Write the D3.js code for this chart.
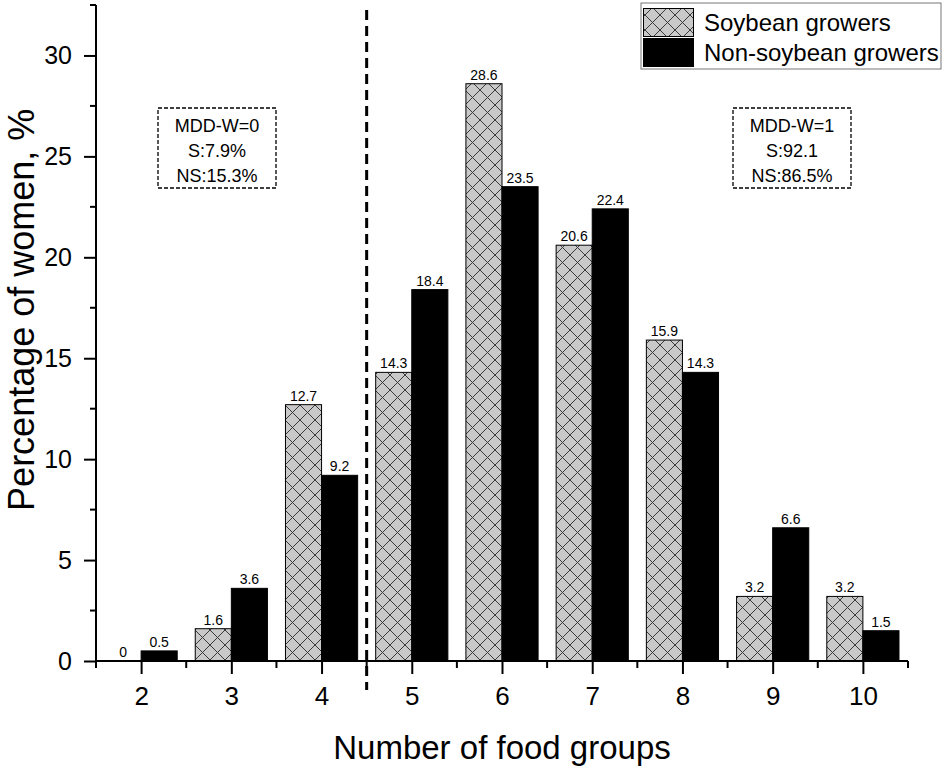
<!DOCTYPE html>
<html><head><meta charset="utf-8">
<script src="https://cdn.jsdelivr.net/npm/d3@7"></script>
<style>body{margin:0;background:#fff}svg{display:block;font-family:"Liberation Sans",Arial,sans-serif}</style>
</head><body>
<svg id="c" width="945" height="770"></svg>
<script>
const categories = [2,3,4,5,6,7,8,9,10];
const soybean = [0,1.6,12.7,14.3,28.6,20.6,15.9,3.2,3.2];
const nonSoybean = [0.5,3.6,9.2,18.4,23.5,22.4,14.3,6.6,1.5];
const yTicks = [0,5,10,15,20,25,30];
const seriesNames = ["Soybean growers","Non-soybean growers"];
const boxLeft = ["MDD-W=0","S:7.9%","NS:15.3%"];
const boxRight = ["MDD-W=1","S:92.1","NS:86.5%"];
const cutoff = 4.5;

const svg = d3.select("#c");
const x = d3.scaleLinear().domain([1.5,10.5]).range([96,908]);
const y = d3.scaleLinear().domain([0,32.5]).range([661,5]);
const bw = 0.4;

const defs = svg.append("defs");
const pat = defs.append("pattern").attr("id","hatch").attr("patternUnits","userSpaceOnUse")
  .attr("width",15).attr("height",15);
pat.append("rect").attr("width",15).attr("height",15).attr("fill","#c9c9c9");
pat.append("path").attr("d","M0,0L15,15M15,0L0,15M-1,14L1,16M14,-1L16,1").attr("stroke","#3a3a3a").attr("stroke-width",1);

const g = svg.append("g");
g.selectAll(".s").data(categories).enter().append("rect")
  .attr("x",d=>x(d-bw)).attr("width",(d)=>x(d)-x(d-bw))
  .attr("y",(d,i)=>y(soybean[i])).attr("height",(d,i)=>y(0)-y(soybean[i]))
  .attr("fill","url(#hatch)").attr("stroke","#000").attr("stroke-width",1);
g.selectAll(".n").data(categories).enter().append("rect")
  .attr("x",d=>x(d)).attr("width",(d)=>x(d+bw)-x(d))
  .attr("y",(d,i)=>y(nonSoybean[i])).attr("height",(d,i)=>y(0)-y(nonSoybean[i]))
  .attr("fill","#000").attr("stroke","#000").attr("stroke-width",1);
g.selectAll(".sl").data(categories).enter().append("text")
  .attr("x",d=>x(d-bw/2)).attr("y",(d,i)=>y(soybean[i])-4)
  .attr("text-anchor","middle").attr("font-size",14).text((d,i)=>soybean[i]);
g.selectAll(".nl").data(categories).enter().append("text")
  .attr("x",d=>x(d+bw/2)).attr("y",(d,i)=>y(nonSoybean[i])-4)
  .attr("text-anchor","middle").attr("font-size",14).text((d,i)=>nonSoybean[i]);

const xAxis = d3.axisBottom(x).tickValues(categories).tickSize(13).tickPadding(13).tickFormat(d3.format("d"));
const xa = svg.append("g").attr("transform",`translate(0,${y(0)})`).call(xAxis);
xa.select(".domain").attr("stroke-width",2).attr("d",`M${x(1.5)},0H${x(10.5)}`);
xa.selectAll(".tick line").attr("stroke-width",2);
xa.selectAll("text").attr("font-size",26).attr("font-family","Liberation Sans, Arial");
const xMinor = d3.range(1.5,10.51,1);
svg.append("g").selectAll("line").data(xMinor).enter().append("line")
  .attr("x1",d=>x(d)).attr("x2",d=>x(d)).attr("y1",y(0)).attr("y2",y(0)+7)
  .attr("stroke","#000").attr("stroke-width",2);

const yAxis = d3.axisLeft(y).tickValues(yTicks).tickSize(12).tickPadding(12);
const ya = svg.append("g").attr("transform",`translate(${x(1.5)},0)`).call(yAxis);
ya.select(".domain").attr("stroke-width",2).attr("d",`M0,${y(0)}V${y(32.5)}`);
ya.selectAll(".tick line").attr("stroke-width",2);
ya.selectAll("text").attr("font-size",25).attr("font-family","Liberation Sans, Arial");
const yMinor = d3.range(2.5,33,5);
svg.append("g").selectAll("line").data(yMinor).enter().append("line")
  .attr("x1",x(1.5)-6).attr("x2",x(1.5)).attr("y1",d=>y(d)).attr("y2",d=>y(d))
  .attr("stroke","#000").attr("stroke-width",2);

svg.append("text").attr("x",(x(1.5)+x(10.5))/2).attr("y",759).attr("text-anchor","middle")
  .attr("font-size",33).text("Number of food groups");
svg.append("text").attr("transform",`translate(34,${y(17.4)}) rotate(-90)`).attr("text-anchor","middle")
  .attr("font-size",36).text("Percentage of women, %");

svg.append("line").attr("x1",x(cutoff)).attr("x2",x(cutoff)).attr("y1",10).attr("y2",690)
  .attr("stroke","#000").attr("stroke-width",3).attr("stroke-dasharray","10,6");

function box(cx, lines){
  const w=118,h=80,top=108;
  svg.append("rect").attr("x",cx-w/2).attr("y",top).attr("width",w).attr("height",h)
    .attr("fill","#fff").attr("stroke","#000").attr("stroke-width",1.3).attr("stroke-dasharray","4,2");
  lines.forEach((t,i)=>svg.append("text").attr("x",cx).attr("y",top+24+i*25)
    .attr("text-anchor","middle").attr("font-size",18).text(t));
}
box(217, boxLeft);
box(792, boxRight);

const lg = svg.append("g");
lg.append("rect").attr("x",641).attr("y",3).attr("width",300).attr("height",66)
  .attr("fill","#fff").attr("stroke","#777").attr("stroke-width",1);
lg.append("rect").attr("x",643.5).attr("y",8.5).attr("width",50).attr("height",28)
  .attr("fill","url(#hatch)").attr("stroke","#000");
lg.append("rect").attr("x",643.5).attr("y",38.5).attr("width",50).attr("height",28)
  .attr("fill","#000").attr("stroke","#000");
seriesNames.forEach((t,i)=>lg.append("text").attr("x",704).attr("y",31+i*30)
  .attr("font-size",24).text(t));
</script>
</body></html>
